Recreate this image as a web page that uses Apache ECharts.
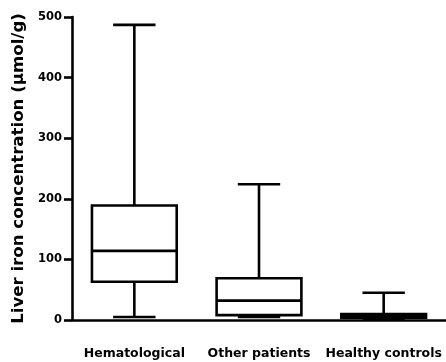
<!DOCTYPE html>
<html><head><meta charset="utf-8">
<script src="https://cdn.jsdelivr.net/npm/echarts@6/dist/echarts.min.js"></script>
<style>html,body{margin:0;padding:0;background:#fff}#c{width:446px;height:362px}</style>
</head><body><div id="c"></div>
<script>
const categories = ['Hematological', 'Other patients', 'Healthy controls'];
const whiskerLow = [5, 5, 2];
const q1 = [63, 8, 4];
const median = [114, 32, 7];
const q3 = [189, 69, 10];
const whiskerHigh = [487, 224, 45];
const yTicks = [0, 100, 200, 300, 400, 500];

const data = categories.map((c, i) => [i, whiskerLow[i], q1[i], median[i], q3[i], whiskerHigh[i]]);
const LW = 2.6;
const chart = echarts.init(document.getElementById('c'));
chart.setOption({
  animation: false,
  grid: {left: 72, top: 17, bottom: 42, width: 377},
  xAxis: {
    type: 'category', data: categories,
    axisLine: {lineStyle: {color: '#000', width: LW}},
    axisTick: {alignWithLabel: true, length: 8, lineStyle: {color: '#000', width: LW}},
    axisLabel: {color: '#000', fontFamily: 'DejaVu Sans', fontWeight: 'bold', fontSize: 12.5, margin: 27, interval: 0}
  },
  yAxis: {
    type: 'value', min: 0, max: 500, interval: 100,
    name: 'Liver iron concentration (µmol/g)', nameLocation: 'middle', nameGap: 44,
    nameTextStyle: {color: '#000', fontFamily: 'DejaVu Sans', fontWeight: 'bold', fontSize: 16.6},
    axisLine: {show: true, lineStyle: {color: '#000', width: LW}},
    axisTick: {show: true, length: 8, lineStyle: {color: '#000', width: LW}},
    axisLabel: {color: '#000', fontFamily: 'DejaVu Sans', fontWeight: 'bold', fontSize: 11.5, margin: 10,
      formatter: v => yTicks.includes(v) ? String(v) : ''},
    splitLine: {show: false}
  },
  series: [{
    type: 'custom',
    data: data,
    encode: {x: 0, y: [1, 2, 3, 4, 5]},
    renderItem: function (params, api) {
      const x = api.value(0);
      const bw = api.size([1, 0])[0] * 0.68;
      const cw = bw * 0.5;
      const pLo = api.coord([x, api.value(1)]);
      const pQ1 = api.coord([x, api.value(2)]);
      const pMed = api.coord([x, api.value(3)]);
      const pQ3 = api.coord([x, api.value(4)]);
      const pHi = api.coord([x, api.value(5)]);
      const cx = pQ1[0];
      const st = {stroke: '#000', lineWidth: LW, fill: null};
      return {
        type: 'group',
        children: [
          {type: 'line', shape: {x1: cx, y1: pQ3[1], x2: cx, y2: pHi[1]}, style: st},
          {type: 'line', shape: {x1: cx, y1: pQ1[1], x2: cx, y2: pLo[1]}, style: st},
          {type: 'line', shape: {x1: cx - cw / 2, y1: pHi[1], x2: cx + cw / 2, y2: pHi[1]}, style: st},
          {type: 'line', shape: {x1: cx - cw / 2, y1: pLo[1], x2: cx + cw / 2, y2: pLo[1]}, style: st},
          {type: 'rect', shape: {x: cx - bw / 2, y: pQ3[1], width: bw, height: pQ1[1] - pQ3[1]}, style: {stroke: '#000', lineWidth: LW, fill: '#fff'}},
          {type: 'line', shape: {x1: cx - bw / 2, y1: pMed[1], x2: cx + bw / 2, y2: pMed[1]}, style: st}
        ]
      };
    }
  }]
});
</script></body></html>
